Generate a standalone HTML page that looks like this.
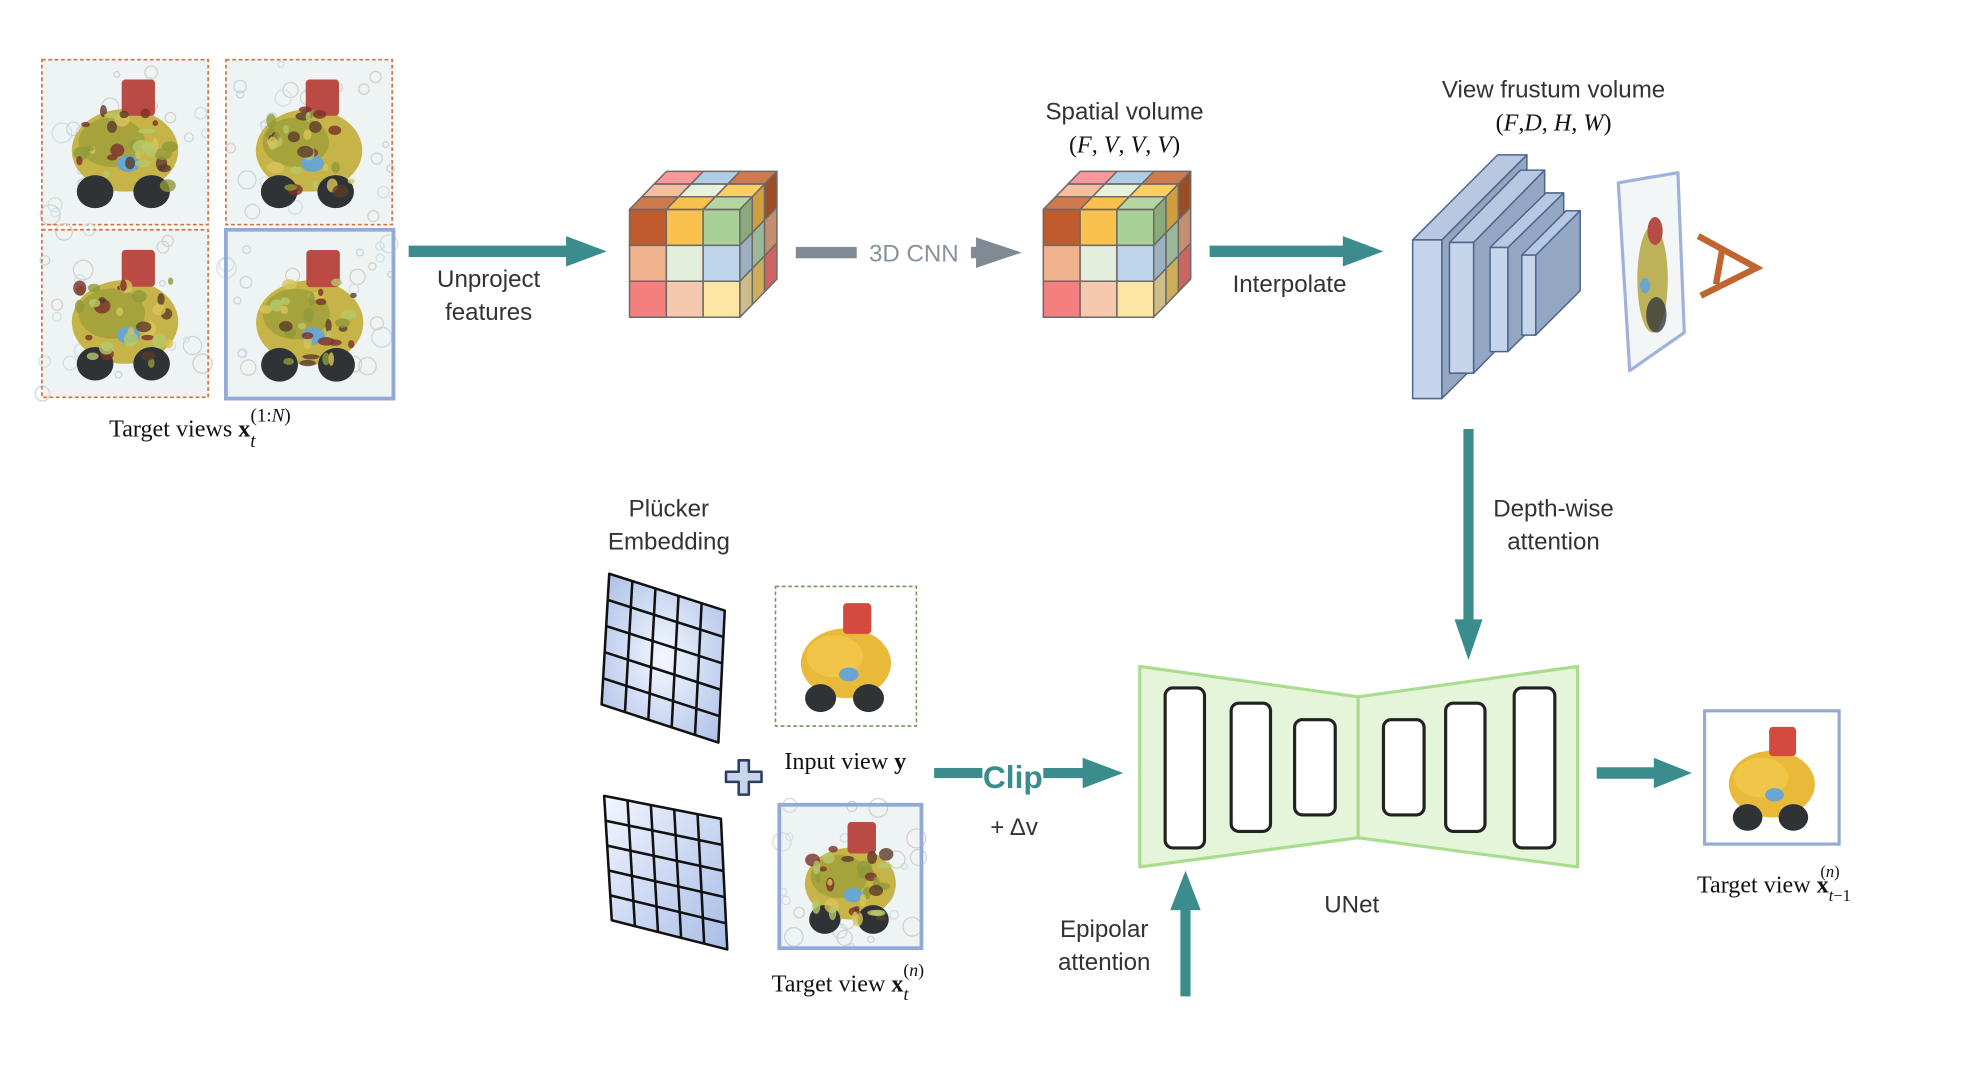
<!DOCTYPE html>
<html><head><meta charset="utf-8">
<style>
html,body{margin:0;padding:0;background:#fff;}
svg{display:block;}
.s{font-family:"Liberation Sans",sans-serif;fill:#333;font-size:19px;}
.r{font-family:"Liberation Serif",serif;fill:#111;font-size:19px;}
</style></head>
<body>
<svg id="sv" xmlns="http://www.w3.org/2000/svg" width="1980" height="1084" viewBox="0 0 1560 854" preserveAspectRatio="none">
<defs>
<radialGradient id="gg" cx="0.5" cy="0.5" r="0.7">
<stop offset="0" stop-color="#f4f8ff"/><stop offset="1" stop-color="#a9bde6"/></radialGradient>
<linearGradient id="gg2" x1="0" y1="0" x2="1" y2="1">
<stop offset="0" stop-color="#f2f6ff"/><stop offset="1" stop-color="#a9bde6"/></linearGradient>
</defs>
<g id="g"></g>

<text class="r" x="86" y="344" font-size="20">Target views <tspan font-weight="bold">x</tspan><tspan font-style="italic" dy="8" font-size="15">t</tspan><tspan dy="-20" dx="-4" font-size="15">(1:<tspan font-style="italic">N</tspan>)</tspan></text>
<text class="s" x="385" y="226" text-anchor="middle">Unproject</text>
<text class="s" x="385" y="252" text-anchor="middle">features</text>
<text class="s" x="720" y="206" text-anchor="middle" style="fill:#87929c">3D CNN</text>
<text class="s" x="886" y="94" text-anchor="middle">Spatial volume</text>
<text class="r" x="886" y="120" text-anchor="middle">(<tspan font-style="italic">F</tspan>, <tspan font-style="italic">V</tspan>, <tspan font-style="italic">V</tspan>, <tspan font-style="italic">V</tspan>)</text>
<text class="s" x="1016" y="230" text-anchor="middle">Interpolate</text>
<text class="s" x="1224" y="77" text-anchor="middle">View frustum volume</text>
<text class="r" x="1224" y="103" text-anchor="middle">(<tspan font-style="italic">F</tspan>,<tspan font-style="italic">D</tspan>, <tspan font-style="italic">H</tspan>, <tspan font-style="italic">W</tspan>)</text>
<text class="s" x="1224" y="407" text-anchor="middle">Depth-wise</text>
<text class="s" x="1224" y="433" text-anchor="middle">attention</text>
<text class="s" x="527" y="407" text-anchor="middle">Plücker</text>
<text class="s" x="527" y="433" text-anchor="middle">Embedding</text>
<text class="r" x="666" y="606" text-anchor="middle">Input view <tspan font-weight="bold">y</tspan></text>
<text class="r" x="608" y="781" font-size="18">Target view <tspan font-weight="bold">x</tspan><tspan font-style="italic" dy="7" font-size="14">t</tspan><tspan dy="-19" dx="-4" font-size="14">(<tspan font-style="italic">n</tspan>)</tspan></text>
<text x="798" y="621" text-anchor="middle" style="font-family:'Liberation Sans',sans-serif;font-weight:bold;font-size:25px;fill:#3a8d8c">Clip</text>
<text class="s" x="799" y="658" text-anchor="middle" font-size="18">+ Δv</text>
<text class="s" x="1065" y="719" text-anchor="middle">UNet</text>
<text class="s" x="870" y="738" text-anchor="middle">Epipolar</text>
<text class="s" x="870" y="764" text-anchor="middle">attention</text>
<text class="r" x="1337" y="703" font-size="17">Target view <tspan font-weight="bold">x</tspan><tspan font-style="italic" dy="7" font-size="13">t</tspan><tspan dy="0" font-size="13">−1</tspan><tspan dy="-19" dx="-24" font-size="13">(<tspan font-style="italic">n</tspan>)</tspan></text>
</svg>
<script>
const G=document.getElementById('g');const NS='http://www.w3.org/2000/svg';
function el(t,a){const e=document.createElementNS(NS,t);for(const k in a)e.setAttribute(k,a[k]);G.appendChild(e);return e;}
function poly(pts,f,s,w){return el('polygon',{points:pts.map(p=>p.join(',')).join(' '),fill:f,stroke:s||'none','stroke-width':w||1,'stroke-linejoin':'round'});}
const T='#3a8d8c';
function harrow(x1,x2,y,c,th,hw,hl){poly([[x1,y-th/2],[x2-hl,y-th/2],[x2-hl,y-hw/2],[x2,y],[x2-hl,y+hw/2],[x2-hl,y+th/2],[x1,y+th/2]],c);}
let seed=7;function rnd(){seed=(seed*9301+49297)%233280;return seed/233280;}
function toy(x,y,w,h,clean){
  el('rect',{x:x,y:y,width:w,height:h,fill:clean?'#ffffff':'#eef3f4'});
  if(!clean){for(let i=0;i<25;i++)el('circle',{cx:x+rnd()*w,cy:y+rnd()*h,r:2+rnd()*6,fill:'none',stroke:['#c9d6dc','#d8cfc9','#cfe0e6'][i%3],'stroke-width':1});}
  const cx=x+w*0.5,cy=y+h*0.55;
  el('ellipse',{cx:cx,cy:cy,rx:w*0.32,ry:h*0.25,fill:clean?'#e9b93a':'#c7b449'});
  el('ellipse',{cx:cx-w*0.08,cy:cy-h*0.05,rx:w*0.2,ry:h*0.15,fill:clean?'#f0c548':'#a6a33c'});
  el('rect',{x:cx-w*0.02,y:y+h*0.12,width:w*0.2,height:h*0.22,fill:clean?'#d44a3e':'#b94a44',rx:3});
  el('ellipse',{cx:cx+w*0.02,cy:cy+h*0.08,rx:w*0.07,ry:h*0.05,fill:'#6aa6d0'});
  el('ellipse',{cx:cx-w*0.18,cy:cy+h*0.25,rx:w*0.11,ry:h*0.1,fill:'#2f3336'});
  el('ellipse',{cx:cx+w*0.16,cy:cy+h*0.25,rx:w*0.11,ry:h*0.1,fill:'#2f3336'});
  if(!clean){for(let i=0;i<30;i++)el('ellipse',{cx:cx+(rnd()-0.5)*w*0.55,cy:cy+(rnd()-0.5)*h*0.5,rx:2+rnd()*5,ry:2+rnd()*4,fill:['#8e9a3a','#d9c45a','#5b3b2a','#b5c86a','#7a2f2a'][i%5],opacity:0.8});}
}
toy(33,47,131,130);el('rect',{x:33,y:47,width:131,height:130,fill:'none',stroke:'#d9723e','stroke-dasharray':'3,2','stroke-width':1.3});
toy(178,47,131,130);el('rect',{x:178,y:47,width:131,height:130,fill:'none',stroke:'#d9723e','stroke-dasharray':'3,2','stroke-width':1.3});
toy(33,181,131,132);el('rect',{x:33,y:181,width:131,height:132,fill:'none',stroke:'#d9723e','stroke-dasharray':'3,2','stroke-width':1.3});
toy(178,181,132,133);el('rect',{x:178,y:181,width:132,height:133,fill:'none',stroke:'#93aad8','stroke-width':3});
harrow(322,478,198,T,9,24,32);
harrow(627,805,199,'#7f8a95',9,24,36);
el('rect',{x:675,y:186,width:90,height:26,fill:'#fff'});
harrow(953,1090,198,T,9,24,32);
function cube(x0,y0){
 const c=29,r=28.3,dx=9.7,dy=-10;
 const F=[['#bf5b2c','#fbc14f','#a9d096'],['#f0b28c','#e3efdc','#bdd5ea'],['#f47f7f','#f6c8ae','#fde5a3']];
 const TP=[['#f9999b','#b0cde6','#cd7a4e'],['#f3bfa0','#e8f1e0','#fcd060'],['#cd7a4e','#fbc14f','#b5d6a2']];
 const SD=[['#8aaa7b','#cf9e3e','#9c4d24'],['#9cb0c2','#9cb89a','#c48e70'],['#cdbd8a','#cfae5a','#cc6464']];
 const st='#6e6a66';
 for(let i=0;i<3;i++)for(let j=0;j<3;j++){const x=x0+j*c,y=y0+i*r;poly([[x,y],[x+c,y],[x+c,y+r],[x,y+r]],F[i][j],st,1.2);}
 for(let k=0;k<3;k++)for(let j=0;j<3;j++){const d=2-k;const bx=x0+j*c+d*dx,by=y0+d*dy;poly([[bx,by],[bx+c,by],[bx+c+dx,by+dy],[bx+dx,by+dy]],TP[k][j],st,1.2);}
 for(let i=0;i<3;i++)for(let k=0;k<3;k++){const bx=x0+3*c+k*dx,by=y0+i*r+k*dy;poly([[bx,by],[bx+dx,by+dy],[bx+dx,by+dy+r],[bx,by+r]],SD[i][k],st,1.2);}
}
cube(496,165);cube(822,165);
const slabs=[[1113,189,23,125,67,-67],[1142,191,19,103,56,-57],[1174,195,14,82,44,-43],[1199,201,11,63,35,-35]];
for(const [x,y,w,h,dx,dy] of slabs){
 poly([[x+w,y],[x+w+dx,y+dy],[x+w+dx,y+h+dy],[x+w,y+h]],'#94a7c2','#4f6690',1.2);
 poly([[x,y],[x+dx,y+dy],[x+w+dx,y+dy],[x+w,y]],'#b6c8e2','#4f6690',1.2);
 poly([[x,y],[x+w,y],[x+w,y+h],[x,y+h]],'#c4d5ec','#4f6690',1.2);
}
poly([[1275,144],[1322,136],[1327,262],[1284,292]],'#f3f6f6','#9fb2dc',2.5);
el('ellipse',{cx:1302,cy:220,rx:12,ry:42,fill:'#b3a43e',opacity:0.85});
el('ellipse',{cx:1304,cy:182,rx:6,ry:11,fill:'#b34d45'});
el('ellipse',{cx:1305,cy:248,rx:8,ry:14,fill:'#363a3a',opacity:0.8});
el('ellipse',{cx:1296,cy:225,rx:4,ry:6,fill:'#6aa6d0'});
el('polyline',{points:'1338,186 1384,211 1340,233',fill:'none',stroke:'#c0652d','stroke-width':5,'stroke-linejoin':'miter'});
el('line',{x1:1357,y1:196,x2:1352,y2:224,stroke:'#c0652d','stroke-width':5});
poly([[1153,338],[1161,338],[1161,488],[1168,488],[1157,520],[1146,488],[1153,488]],T);
function grid(a,b,c,d,fill){
 poly([a,b,c,d],fill,'#111',2);
 const L=(p,q,t)=>[p[0]+(q[0]-p[0])*t,p[1]+(q[1]-p[1])*t];
 for(let i=1;i<5;i++){const t=i/5;const p=L(a,d,t),q=L(b,c,t);el('line',{x1:p[0],y1:p[1],x2:q[0],y2:q[1],stroke:'#111','stroke-width':2});
 const p2=L(a,b,t),q2=L(d,c,t);el('line',{x1:p2[0],y1:p2[1],x2:q2[0],y2:q2[1],stroke:'#111','stroke-width':2});}
}
grid([480,452],[571,481],[566,585],[474,555],'url(#gg)');
grid([476,627],[568,645],[573,748],[482,725],'url(#gg2)');
toy(611,462,111,110,true);
el('rect',{x:611,y:462,width:111,height:110,fill:'none',stroke:'#6f9a5a','stroke-dasharray':'3,2','stroke-width':1.2});
poly([[582,599],[590,599],[590,608],[600,608],[600,616],[590,616],[590,626],[582,626],[582,616],[572,616],[572,608],[582,608]],'#c9d5ea','#2b3f63',2);
toy(614,634,112,113);el('rect',{x:614,y:634,width:112,height:113,fill:'none',stroke:'#93aad8','stroke-width':3});
el('rect',{x:736,y:605,width:38,height:8,fill:T});
harrow(822,885,609,T,8,24,32);
poly([[898,525],[1070,549],[1070,660],[898,683]],'#e4f5da','#a8dd8e',2.5);
poly([[1243,525],[1070,549],[1070,660],[1243,683]],'#e4f5da','#a8dd8e',2.5);
for(const [x,y,w,h] of [[918,542,31,126],[970,554,31,101],[1020,567,32,75],[1090,567,32,75],[1139,554,31,101],[1193,542,32,126]])
 el('rect',{x:x,y:y,width:w,height:h,rx:6,fill:'#fff',stroke:'#222','stroke-width':2.5});
poly([[930,785],[938,785],[938,717],[946,717],[934,686],[922,717],[930,717]],T);
harrow(1258,1333,609,T,9,24,30);
toy(1343,560,106,105,true);el('rect',{x:1343,y:560,width:106,height:105,fill:'none',stroke:'#93aad8','stroke-width':2.5});
</script>
</body></html>
